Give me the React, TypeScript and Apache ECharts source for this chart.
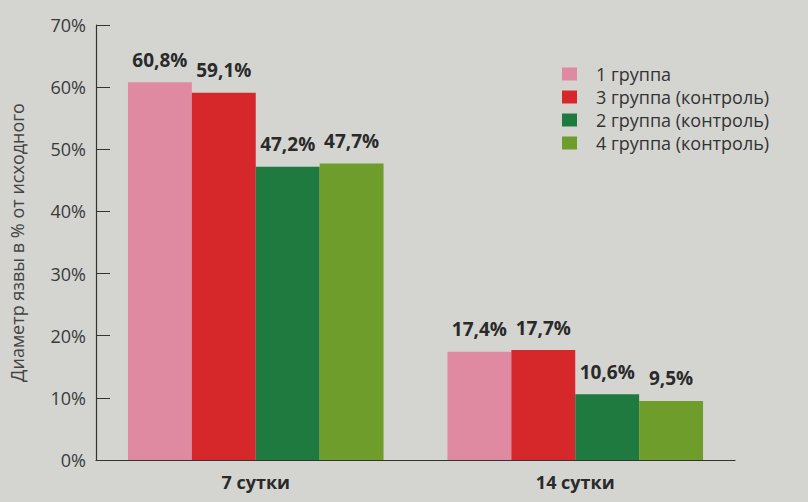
import React, { useEffect, useRef } from "react";
import * as echarts from "echarts";

const categories = ["7 сутки", "14 сутки"];
const seriesNames = ["1 группа", "3 группа (контроль)", "2 группа (контроль)", "4 группа (контроль)"];
const group1 = [60.8, 17.4];
const group3 = [59.1, 17.7];
const group2 = [47.2, 10.6];
const group4 = [47.7, 9.5];
const colors = ["#df8aa1", "#d6282a", "#1f7a3f", "#6f9d2c"];
const yTicks = [0, 10, 20, 30, 40, 50, 60, 70];

export default function App() {
  const ref = useRef<HTMLDivElement>(null);
  useEffect(() => {
    if (!ref.current) return;
    const chart = echarts.init(ref.current, undefined, { renderer: "svg" });
    const values = [group1, group3, group2, group4];
    chart.setOption({
      animation: false,
      backgroundColor: "#d4d5d1",
      textStyle: { fontFamily: "'Open Sans', 'Noto Sans', sans-serif" },
      grid: { left: 96, top: 25, right: 73, bottom: 42 },
      legend: {
        orient: "vertical",
        left: 557,
        top: 60,
        itemWidth: 15,
        itemHeight: 13,
        itemGap: 5,
        icon: "rect",
        textStyle: { fontSize: 18, lineHeight: 18, color: "#333", padding: [0, 0, 0, 14] },
        data: seriesNames,
      },
      xAxis: {
        type: "category",
        data: categories,
        axisLine: { lineStyle: { color: "#333", width: 1.2 } },
        axisTick: { inside: true, length: 8, lineStyle: { color: "#333" } },
        axisLabel: { fontSize: 18, fontWeight: "bold", color: "#2a2a2a", margin: 13 },
      },
      yAxis: {
        type: "value",
        min: 0,
        max: 70,
        interval: 10,
        name: "Диаметр язвы в % от исходного",
        nameLocation: "middle",
        nameGap: 70,
        nameTextStyle: { fontSize: 18, color: "#444" },
        axisLine: { show: true, lineStyle: { color: "#333", width: 1.2 } },
        axisTick: { show: true, inside: true, length: 14, lineStyle: { color: "#333" } },
        splitLine: { show: false },
        axisLabel: {
          fontSize: 18,
          color: "#3a3a3a",
          margin: 10,
          formatter: (v: number) => (yTicks.includes(v) ? v + "%" : ""),
        },
      },
      series: seriesNames.map((name, i) => ({
        name,
        type: "bar",
        data: values[i],
        barGap: "0%",
        barCategoryGap: "20%",
        itemStyle: { color: colors[i] },
        label: {
          show: true,
          position: "top",
          distance: 13,
          fontSize: 19,
          fontWeight: "bold",
          color: "#2a2a2a",
          formatter: (p: any) => String(p.value).replace(".", ",") + "%",
        },
      })),
    });
    return () => chart.dispose();
  }, []);
  return <div ref={ref} style={{ width: 808, height: 502, position: "absolute", left: 0, top: 0 }} />;
}
